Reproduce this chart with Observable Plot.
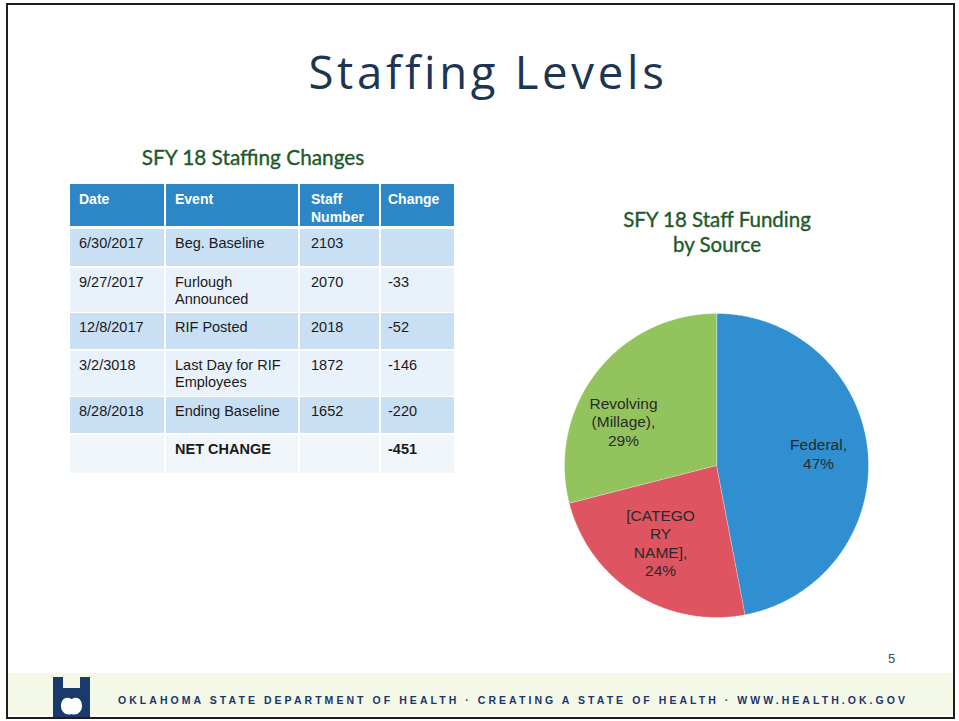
<!DOCTYPE html>
<html>
<head>
<meta charset="utf-8">
<script src="https://cdn.jsdelivr.net/npm/d3@7"></script>
<script src="https://cdn.jsdelivr.net/npm/@observablehq/plot@0.6"></script>
<style>
  html, body { margin: 0; padding: 0; background: #fff; }
  #slide { position: relative; width: 959px; height: 721px; overflow: hidden; background: #fff; font-family: "Liberation Sans", Arial, sans-serif; }
  .abs { position: absolute; }
  #frame { left: 6px; top: 3px; width: 945px; height: 712px; border: 2px solid #1e1e1e; }
  #title { left: 4px; width: 968px; top: 40px; text-align: center; font-family: "Open Sans", Lato, sans-serif; font-size: 45.5px; letter-spacing: 3.7px; color: #1c3552; }
  .green { font-family: Lato, "Open Sans", sans-serif; color: #1d5a2b; text-align: center; -webkit-text-stroke: 0.35px #1d5a2b; }
  .cell { position: absolute; box-sizing: border-box; padding: 6px 8px 0 9px; font-size: 14.5px; line-height: 17px; color: #1a1a1a; }
  .hdr { color: #fff; font-weight: bold; font-size: 14px; line-height: 18px; }
  .bold { font-weight: bold; }
</style>
</head>
<body>
<div id="slide">
  <div id="frame" class="abs"></div>
  <div id="title" class="abs">Staffing Levels</div>
  <div id="tableTitle" class="abs green" style="left:63px;width:380px;top:144px;font-size:20.8px;">SFY 18 Staffing Changes</div>
  <div id="table" class="abs" style="left:0;top:0;"></div>
  <div id="pieTitle" class="abs green" style="left:567px;width:300px;top:207px;font-size:20.5px;line-height:25px;">SFY 18 Staff Funding<br>by Source</div>
  <div id="pie" class="abs" style="left:556px;top:305px;"></div>
  <div id="pageNum" class="abs" style="left:888px;top:651px;font-size:13px;color:#3b4a66;">5</div>
  <svg id="footer" class="abs" style="left:0;top:0;" width="959" height="721"></svg>
</div>
<script>
// ---------- Table data ----------
const tableHeaders = ["Date", "Event", "Staff Number", "Change"];
const dates = ["6/30/2017", "9/27/2017", "12/8/2017", "3/2/3018", "8/28/2018", ""];
const events = ["Beg. Baseline", "Furlough Announced", "RIF Posted", "Last Day for RIF Employees", "Ending Baseline", "NET CHANGE"];
const staffNumbers = [2103, 2070, 2018, 1872, 1652, null];
const changes = [null, -33, -52, -146, -220, -451];

// ---------- Pie data ----------
const sources = ["Federal", "[CATEGORY NAME]", "Revolving (Millage)"];
const shares = [47, 24, 29];
const sliceLabels = ["Federal,\n47%", "[CATEGO\nRY\nNAME],\n24%", "Revolving\n(Millage),\n29%"];
const sliceColors = ["#2f8fd0", "#de5460", "#93c35d"];

// ---------- Table layout (style) ----------
const colX = [70, 166, 300, 381];
const colW = [94, 132, 79, 73];
const rowY = [184, 229, 268, 313, 351, 397, 435];
const rowH = [42, 37, 44, 36, 45, 36, 38];
const rowBg = ["#2d87c6", "#c9e0f4", "#e9f1fa", "#c9e0f4", "#e9f1fa", "#c9e0f4", "#f1f6fb"];

const tableEl = document.getElementById("table");
const fmtChange = v => v == null ? "" : String(v);
const rows = [tableHeaders].concat(dates.map((d, i) => [d, events[i], staffNumbers[i] == null ? "" : String(staffNumbers[i]), fmtChange(changes[i])]));
rows.forEach((row, r) => {
  row.forEach((txt, c) => {
    const div = document.createElement("div");
    div.className = "cell" + (r === 0 ? " hdr" : "") + (r === rows.length - 1 ? " bold" : "");
    div.style.left = colX[c] + "px";
    div.style.top = rowY[r] + "px";
    div.style.width = colW[c] + "px";
    div.style.height = rowH[r] + "px";
    div.style.background = rowBg[r];
    if (r === 0 && c === 2) { div.innerHTML = "Staff<br>Number"; div.style.paddingLeft = "11px"; }
    else div.textContent = txt;
    if (r > 0 && c === 2) div.style.paddingLeft = "11px";
    if (c === 3) div.style.paddingLeft = "7px";
    tableEl.appendChild(div);
  });
});

// ---------- Pie via Plot ----------
const total = d3.sum(shares);
let acc = 0;
const slices = sources.map((name, i) => {
  const a0 = acc / total * 2 * Math.PI;
  acc += shares[i];
  const a1 = acc / total * 2 * Math.PI;
  return {name, a0, a1, i};
});
const poly = [];
slices.forEach(s => {
  poly.push({name: s.name, x: 0, y: 0});
  const steps = Math.max(2, Math.ceil((s.a1 - s.a0) / (Math.PI / 360)));
  for (let k = 0; k <= steps; k++) {
    const a = s.a0 + (s.a1 - s.a0) * k / steps;
    poly.push({name: s.name, x: Math.sin(a), y: Math.cos(a)});
  }
});
const labelRadius = [0.676, 0.626, 0.677];
const labelAngleShift = [-1.3, 3.6, -12.5]; // degrees
const labels = slices.map((s, i) => {
  const a = (s.a0 + s.a1) / 2 + labelAngleShift[i] * Math.PI / 180;
  return {x: Math.sin(a) * labelRadius[i], y: Math.cos(a) * labelRadius[i], text: sliceLabels[i]};
});

const pie = Plot.plot({
  width: 320, height: 320, margin: 8,
  style: {background: "transparent", overflow: "visible"},
  x: {domain: [-1, 1], axis: null},
  y: {domain: [-1, 1], axis: null},
  color: {domain: sources, range: sliceColors},
  marks: [
    Plot.line(poly, {x: "x", y: "y", z: "name", fill: "name", stroke: "#ffffff", strokeWidth: 0.5, strokeOpacity: 0.6, curve: "linear-closed"}),
    Plot.text(labels, {x: "x", y: "y", text: "text", fontSize: 15.5, fill: "#2a2a2a", lineHeight: 1.2, lineAnchor: "middle", fontFamily: "Liberation Sans, Arial, sans-serif"})
  ]
});
document.getElementById("pie").appendChild(pie);

// ---------- Footer ----------
const footerText = "OKLAHOMA STATE DEPARTMENT OF HEALTH \u00B7 CREATING A STATE OF HEALTH \u00B7 WWW.HEALTH.OK.GOV";
const svg = d3.select("#footer");
svg.append("rect").attr("x", 8).attr("y", 673).attr("width", 945).attr("height", 42).attr("fill", "#f4f8e6");
svg.append("rect").attr("x", 53).attr("y", 677).attr("width", 37).attr("height", 40).attr("fill", "#1b3a6c");
svg.append("rect").attr("x", 63).attr("y", 677).attr("width", 17).attr("height", 11).attr("fill", "#f4f8e6");
svg.append("path").attr("d", "M71.5 699 C66 696 61 699 61 706 C61 712 66 716 71.5 714 C77 716 82 712 82 706 C82 699 77 696 71.5 699 Z").attr("fill", "#ffffff");
svg.append("path").attr("d", "M71 699 L73 694 L74.5 694.5 L72.3 699 Z").attr("fill", "#1b3a6c");
svg.append("text").attr("x", 118).attr("y", 703.5).attr("textLength", 787).attr("lengthAdjust", "spacing")
  .attr("font-family", "Liberation Sans, Arial, sans-serif").attr("font-weight", "bold").attr("font-size", 10.5)
  .attr("fill", "#1a3570").text(footerText);
</script>
</body>
</html>
